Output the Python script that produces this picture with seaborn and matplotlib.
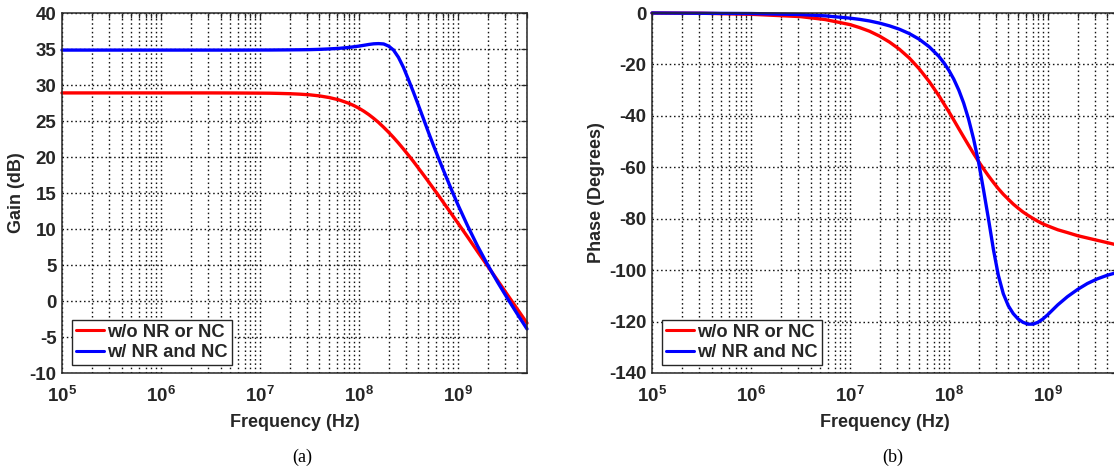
import numpy as np
import pandas as pd
import matplotlib
matplotlib.use("Agg")
import matplotlib.pyplot as plt
from matplotlib.ticker import FixedLocator, LogLocator, NullFormatter, FuncFormatter
import seaborn as sns

# ---------------- data ----------------
freq_hz = [1e5, 3.16e5, 1e6, 3.16e6, 5.62e6, 1e7, 1.26e7, 1.58e7, 2e7, 2.51e7,
           3.16e7, 3.98e7, 5.01e7, 6.31e7, 7.94e7,
           8.91e7, 1e8, 1.12e8, 1.26e8, 1.41e8, 1.58e8, 1.78e8, 2e8, 2.24e8, 2.51e8,
           2.82e8, 3.16e8, 3.55e8, 3.98e8, 4.47e8, 5.01e8, 5.62e8, 6.31e8, 7.08e8, 7.94e8,
           8.91e8, 1e9, 1.26e9, 1.58e9, 2e9, 2.51e9, 3.16e9, 3.98e9, 5e9]

gain_without = [28.90, 28.90, 28.90, 28.90, 28.89, 28.87, 28.86, 28.83, 28.79, 28.73,
                28.64, 28.49, 28.26, 27.93, 27.45,
                27.14, 26.78, 26.37, 25.89, 25.37, 24.80, 24.13, 23.43, 22.71, 21.94,
                21.11, 20.27, 19.40, 18.49, 17.57, 16.64, 15.70, 14.74, 13.77, 12.80,
                11.82, 10.84, 8.86, 6.88, 4.85, 2.90, 0.90, -1.10, -3.07]

gain_with = [34.85, 34.85, 34.85, 34.85, 34.85, 34.86, 34.86, 34.87, 34.88, 34.89,
             34.91, 34.95, 35.01, 35.09, 35.22,
             35.31, 35.40, 35.51, 35.63, 35.72, 35.75, 35.70, 35.40, 34.85, 33.85,
             32.45, 30.80, 29.05, 27.25, 25.40, 23.55, 21.75, 20.00, 18.30, 16.65,
             15.00, 13.40, 10.39, 7.65, 5.03, 2.67, 0.40, -1.78, -3.88]

phase_without = [-0.0, -0.1, -0.5, -1.4, -2.55, -4.5, -5.71, -7.1, -9.02, -11.3,
                 -14.08, -17.5, -21.68, -26.6, -32.2,
                 -35.3, -38.4, -41.6, -45.0, -48.2, -51.4, -54.7, -57.8, -60.6, -63.3,
                 -65.9, -68.3, -70.5, -72.4, -74.3, -75.9, -77.4, -78.7, -79.9, -81.0,
                 -82.0, -82.8, -84.3, -85.4, -86.6, -87.5, -88.4, -89.3, -90.2]

phase_with = [-0.0, -0.1, -0.2, -0.6, -1.11, -2.0, -2.49, -3.1, -3.96, -5.0,
              -6.30, -8.0, -10.19, -13.1, -16.9,
              -19.4, -22.3, -25.7, -30.0, -35.0, -41.2, -49.1, -58.2, -68.8, -80.0,
              -92.0, -102.0, -109.2, -113.8, -116.9, -119.0, -120.3, -121.0, -121.0, -120.3,
              -119.0, -117.3, -113.5, -110.3, -107.5, -105.2, -103.4, -102.0, -100.9]

series_names = ["w/o NR or NC", "w/ NR and NC"]
gain_yticks = [-10, -5, 0, 5, 10, 15, 20, 25, 30, 35, 40]
phase_yticks = [-140, -120, -100, -80, -60, -40, -20, 0]
x_major = [1e5, 1e6, 1e7, 1e8, 1e9]
captions = ["(a)", "(b)"]

# ---------------- style ----------------
sns.set_style("white")
plt.rcParams["font.family"] = ["Liberation Sans", "DejaVu Sans"]
plt.rcParams["font.weight"] = "bold"
plt.rcParams["axes.unicode_minus"] = False
plt.rcParams["mathtext.fontset"] = "custom"
plt.rcParams["mathtext.rm"] = "Liberation Sans:bold"
plt.rcParams["mathtext.it"] = "Liberation Sans:bold"
plt.rcParams["mathtext.bf"] = "Liberation Sans:bold"
plt.rcParams["mathtext.default"] = "rm"

TXT = "#262626"
GRID = "#111111"
palette = {series_names[0]: "#ff0000", series_names[1]: "#0000ff"}

gain_df = pd.DataFrame({
    "Frequency": freq_hz * 2,
    "value": gain_without + gain_with,
    "series": [series_names[0]] * len(freq_hz) + [series_names[1]] * len(freq_hz),
})
phase_df = pd.DataFrame({
    "Frequency": freq_hz * 2,
    "value": phase_without + phase_with,
    "series": [series_names[0]] * len(freq_hz) + [series_names[1]] * len(freq_hz),
})

W, H = 1114, 467
fig = plt.figure(figsize=(W / 100, H / 100), dpi=100)
ax_a = fig.add_axes([62 / W, (H - 373) / H, 465 / W, 360 / H])
ax_b = fig.add_axes([652 / W, (H - 373) / H, 465 / W, 360 / H])


def style_axes(ax, df, ylim, yticks, ylabel):
    sns.lineplot(data=df, x="Frequency", y="value", hue="series",
                 hue_order=series_names, palette=palette, estimator=None,
                 linewidth=2.4, ax=ax, clip_on=False, legend=True)
    ax.set_xscale("log")
    ax.set_xlim(1e5, 5e9)
    ax.set_ylim(*ylim)
    ax.xaxis.set_major_locator(FixedLocator(x_major))
    ax.xaxis.set_major_formatter(FuncFormatter(
        lambda v, p: r"$10^{%d}$" % int(round(np.log10(v)))))
    ax.xaxis.set_minor_locator(LogLocator(base=10, subs=np.arange(2, 10), numticks=20))
    ax.xaxis.set_minor_formatter(NullFormatter())
    ax.set_yticks(yticks)
    ax.set_yticklabels([str(t) for t in yticks])
    ax.grid(True, which="major", axis="both", color=GRID,
            linestyle=(0, (1.1, 2.0)), linewidth=1.0)
    ax.grid(True, which="minor", axis="x", color=GRID,
            linestyle=(0, (1.1, 2.0)), linewidth=1.0)
    ax.set_axisbelow(True)
    ax.tick_params(which="both", direction="in", top=True, right=True,
                   color=TXT, width=0.9)
    ax.tick_params(which="major", length=4.5, labelsize=13.5, labelcolor=TXT, pad=4)
    ax.tick_params(which="minor", length=3.5)
    ax.tick_params(axis="x", which="major", pad=9)
    for sp in ax.spines.values():
        sp.set_color(TXT)
        sp.set_linewidth(1.1)
    ax.set_xlabel("Frequency (Hz)", fontsize=13, fontweight="bold", color=TXT, labelpad=6)
    ax.set_ylabel(ylabel, fontsize=13, fontweight="bold", color=TXT, labelpad=3)
    for lab in ax.get_xticklabels() + ax.get_yticklabels():
        lab.set_fontweight("bold")
    handles, labels = ax.get_legend_handles_labels()
    for h in handles:
        h.set_linewidth(2.2)
    leg = ax.legend(handles, labels, loc="lower left", bbox_to_anchor=(0.0215, 0.022),
                    borderaxespad=0, frameon=True, fancybox=False, framealpha=1,
                    edgecolor=TXT, facecolor="white", handlelength=1.5,
                    handletextpad=0.2, borderpad=0.22, labelspacing=0.18,
                    prop={"weight": "bold", "size": 13.2, "family": "Liberation Sans"})
    leg.get_frame().set_linewidth(1.0)
    for t in leg.get_texts():
        t.set_color(TXT)


style_axes(ax_a, gain_df, (-10, 40), gain_yticks, "Gain (dB)")
style_axes(ax_b, phase_df, (-140, 0), phase_yticks, "Phase (Degrees)")

fig.text(302 / W, (H - 457) / H, captions[0], ha="center", va="center",
         fontsize=13, fontweight="normal", family="Liberation Serif", color="black")
fig.text(893 / W, (H - 457) / H, captions[1], ha="center", va="center",
         fontsize=13, fontweight="normal", family="Liberation Serif", color="black")

fig.savefig("out.png", dpi=100)
